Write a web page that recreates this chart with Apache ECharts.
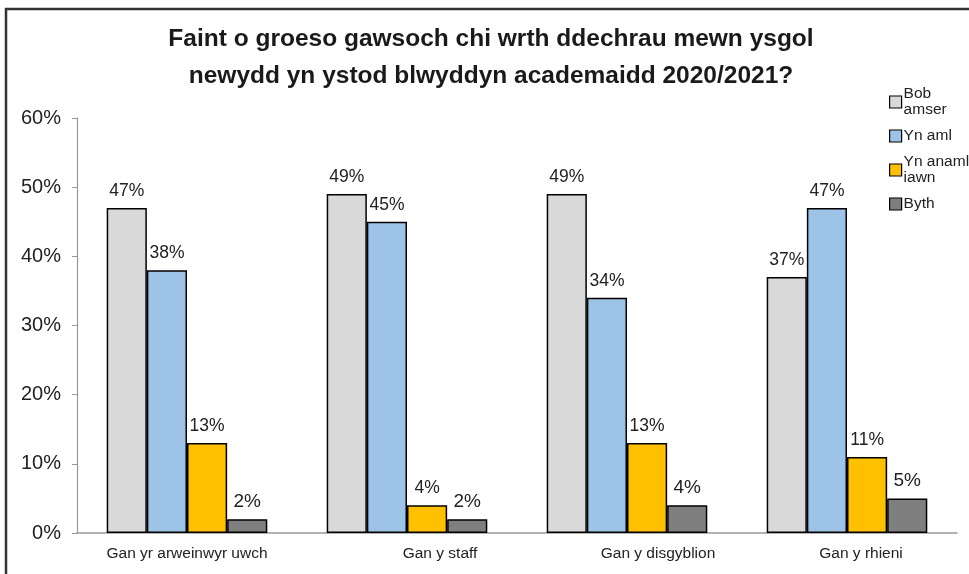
<!DOCTYPE html>
<html><head><meta charset="utf-8">
<script src="https://cdn.jsdelivr.net/npm/echarts@6/dist/echarts.min.js"></script>
<style>html,body{margin:0;padding:0;background:#fff}#c{width:969px;height:574px}</style>
</head><body><div id="c"></div>
<script>
const categories = ['Gan yr arweinwyr uwch', 'Gan y staff', 'Gan y disgyblion', 'Gan y rhieni'];
const seriesNames = ['Bob\namser', 'Yn aml', 'Yn anaml\niawn', 'Byth'];
const bobAmser = [47, 49, 49, 37];
const ynAml = [38, 45, 34, 47];
const ynAnamlIawn = [13, 4, 13, 11];
const byth = [2, 2, 4, 5];
const yTicks = [0, 10, 20, 30, 40, 50, 60];

const colors = ['#d9d9d9', '#9dc3e6', '#ffc000', '#7f7f7f'];
const labelShift = [0, 66, 62, 28];
const values = [bobAmser, ynAml, ynAnamlIawn, byth];
const FONT = 'Liberation Sans, Arial, sans-serif';

const chart = echarts.init(document.getElementById('c'));
chart.setOption({
  backgroundColor: '#fff',
  animation: false,
  textStyle: { fontFamily: FONT },
  graphic: [{
    type: 'rect', shape: { x: 6, y: 9, width: 980, height: 590 },
    style: { fill: 'none', stroke: '#333', lineWidth: 2.5 }, silent: true
  }],
  title: {
    text: 'Faint o groeso gawsoch chi wrth ddechrau mewn ysgol\nnewydd yn ystod blwyddyn academaidd 2020/2021?',
    left: 486, top: 16, textAlign: 'center',
    textStyle: { fontSize: 24.5, fontWeight: 'bold', color: '#1a1a1a', lineHeight: 37, fontFamily: FONT }
  },
  legend: {
    orient: 'vertical', left: 884, top: 81,
    icon: 'rect', itemWidth: 12, itemHeight: 12, itemGap: 10,
    textStyle: { fontSize: 15.5, color: '#222', lineHeight: 16, padding: [0, 0, 0, -3], fontFamily: FONT },
    itemStyle: { borderColor: '#000', borderWidth: 1.2 },
    data: seriesNames
  },
  grid: { left: 77, right: 12, top: 118, bottom: 41 },
  xAxis: {
    type: 'category', data: categories,
    axisLine: { lineStyle: { color: '#999', width: 1.5 } },
    axisTick: { show: false },
    axisLabel: {
      interval: 0, hideOverlap: false,
      fontSize: 15.5, color: '#222', margin: 13,
      formatter: (v, i) => '{p' + i + '|' + v + '}',
      rich: Object.fromEntries(labelShift.map((s, i) => ['p' + i, { padding: [0, 0, 0, s], fontSize: 15.5, color: '#222', fontFamily: FONT }]))
    }
  },
  yAxis: {
    type: 'value', min: 0, max: 60, interval: 10,
    axisLine: { show: true, lineStyle: { color: '#999', width: 1.2 } },
    axisTick: { show: true, length: 5, lineStyle: { color: '#999' } },
    splitLine: { show: false },
    axisLabel: { fontSize: 20, color: '#222', margin: 16, formatter: v => yTicks.includes(v) ? v + '%' : '' }
  },
  series: values.map((d, i) => ({
    name: seriesNames[i], type: 'bar', data: d,
    barGap: '0%', barCategoryGap: '27%',
    itemStyle: { color: colors[i], borderColor: '#000', borderWidth: 1.5 },
    label: { show: true, position: 'top', distance: 8, fontSize: i === 3 ? 19 : 17.5, color: '#222', fontFamily: FONT, formatter: p => p.value + '%' }
  }))
});
</script></body></html>
